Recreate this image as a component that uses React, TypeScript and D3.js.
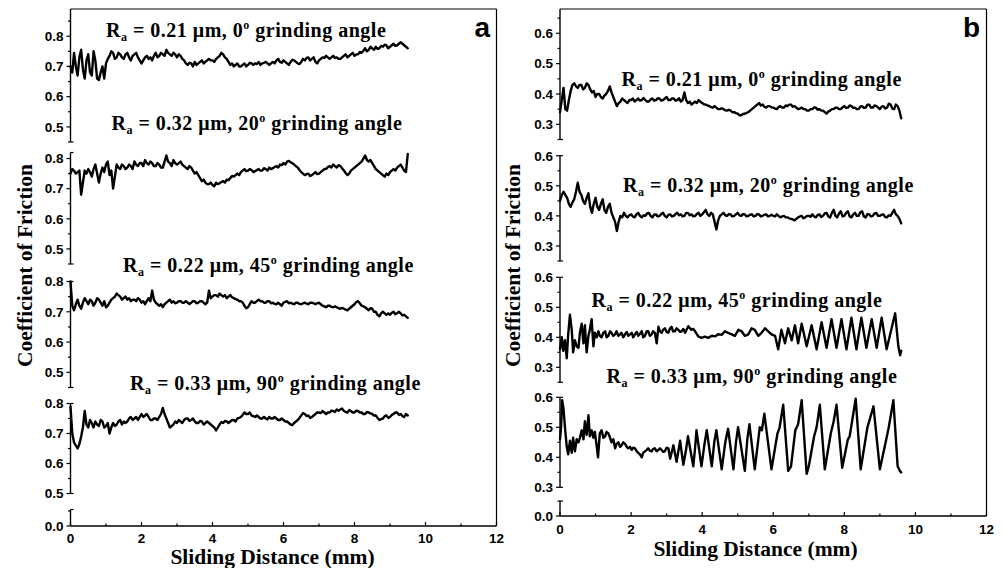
import React from 'react';
import * as d3 from 'd3';

// ---------------- DATA ----------------
const X_TICKS = [0, 2, 4, 6, 8, 10, 12];
const X_MINOR = [1, 3, 5, 7, 9, 11];
const X_DOMAIN: [number, number] = [0, 12];
const SAMPLE_STEP = 0.05; // mm between readings of the uniform traces

// value ranges of the stacked (broken) y-axis layers, top to bottom
const SEG_DOMAINS_A: [number, number][] = [[0.45, 0.89], [0.45, 0.82], [0.45, 0.8], [0.5, 0.8], [0, 0.055]];
const SEG_DOMAINS_B: [number, number][] = [[0.25, 0.68], [0.25, 0.6], [0.25, 0.6], [0.3, 0.6], [0, 0.05]];

// panel a : coefficient of friction, one reading per 0.05 mm from 0 mm
const A1_COF = [0.70,0.68,0.745,0.70,0.67,0.73,0.755,0.69,0.66,0.72,0.74,0.68,0.67,0.75,0.72,0.66,0.655,0.68,0.70,0.66,
0.71,0.725,0.735,0.75,0.745,0.725,0.73,0.745,0.74,0.73,0.725,0.74,0.745,0.73,0.72,0.735,0.74,0.745,0.73,0.72,
0.71,0.72,0.73,0.735,0.725,0.73,0.72,0.735,0.745,0.73,0.735,0.745,0.74,0.735,0.755,0.745,0.74,0.735,0.745,0.74,
0.73,0.74,0.735,0.725,0.72,0.71,0.705,0.712,0.71,0.70,0.715,0.705,0.71,0.715,0.72,0.71,0.715,0.72,0.725,0.72,
0.72,0.715,0.725,0.73,0.735,0.745,0.74,0.73,0.725,0.715,0.705,0.71,0.70,0.705,0.71,0.70,0.70,0.705,0.71,0.70,
0.705,0.712,0.71,0.705,0.71,0.708,0.715,0.705,0.71,0.712,0.715,0.71,0.705,0.71,0.715,0.71,0.72,0.725,0.715,0.712,
0.72,0.715,0.71,0.705,0.715,0.722,0.72,0.715,0.71,0.708,0.715,0.725,0.72,0.728,0.73,0.72,0.725,0.73,0.715,0.71,
0.72,0.725,0.73,0.728,0.735,0.73,0.725,0.73,0.735,0.728,0.73,0.725,0.725,0.73,0.735,0.74,0.73,0.735,0.74,0.745,
0.735,0.74,0.74,0.748,0.745,0.752,0.76,0.75,0.755,0.765,0.76,0.755,0.765,0.758,0.76,0.768,0.765,0.772,0.77,0.76,
0.765,0.77,0.775,0.768,0.77,0.775,0.78,0.775,0.77,0.765,0.76];
const A2_COF = [0.75,0.765,0.76,0.75,0.755,0.76,0.68,0.72,0.76,0.75,0.765,0.755,0.74,0.765,0.78,0.75,0.72,0.75,0.77,0.755,
0.78,0.79,0.745,0.76,0.70,0.74,0.78,0.77,0.765,0.78,0.775,0.765,0.77,0.78,0.775,0.765,0.79,0.78,0.775,0.785,
0.785,0.775,0.795,0.785,0.78,0.79,0.785,0.775,0.775,0.785,0.78,0.77,0.77,0.79,0.81,0.79,0.785,0.775,0.795,0.785,
0.78,0.785,0.79,0.78,0.775,0.77,0.765,0.775,0.77,0.76,0.75,0.755,0.745,0.735,0.725,0.73,0.72,0.715,0.715,0.72,
0.712,0.708,0.72,0.715,0.718,0.722,0.725,0.72,0.73,0.728,0.735,0.742,0.74,0.745,0.75,0.745,0.755,0.76,0.765,0.758,
0.76,0.765,0.762,0.755,0.758,0.762,0.765,0.76,0.76,0.768,0.765,0.76,0.77,0.765,0.768,0.772,0.775,0.77,0.78,0.778,
0.785,0.78,0.79,0.792,0.787,0.785,0.78,0.775,0.77,0.762,0.755,0.75,0.745,0.748,0.75,0.742,0.745,0.75,0.755,0.748,
0.75,0.755,0.76,0.765,0.765,0.772,0.775,0.77,0.78,0.775,0.77,0.778,0.775,0.768,0.76,0.752,0.745,0.75,0.76,0.765,
0.77,0.775,0.78,0.785,0.79,0.80,0.81,0.795,0.79,0.795,0.785,0.775,0.765,0.76,0.755,0.75,0.745,0.74,0.75,0.745,
0.755,0.76,0.765,0.76,0.77,0.775,0.78,0.77,0.76,0.755,0.815];
const A3_COF = [0.80,0.72,0.705,0.725,0.74,0.72,0.71,0.73,0.745,0.735,0.725,0.74,0.735,0.72,0.73,0.745,0.74,0.73,0.72,0.735,
0.715,0.72,0.73,0.74,0.745,0.75,0.76,0.755,0.75,0.74,0.745,0.75,0.74,0.745,0.735,0.74,0.74,0.735,0.745,0.74,
0.73,0.735,0.725,0.735,0.745,0.735,0.77,0.74,0.73,0.725,0.72,0.725,0.715,0.725,0.73,0.735,0.74,0.73,0.735,0.728,
0.73,0.735,0.735,0.73,0.73,0.735,0.73,0.726,0.73,0.735,0.735,0.728,0.73,0.735,0.735,0.73,0.725,0.73,0.77,0.745,
0.75,0.755,0.755,0.75,0.76,0.755,0.75,0.755,0.745,0.75,0.755,0.748,0.745,0.742,0.74,0.735,0.735,0.73,0.72,0.712,
0.715,0.725,0.735,0.73,0.73,0.735,0.74,0.735,0.735,0.73,0.73,0.735,0.735,0.728,0.73,0.726,0.725,0.73,0.725,0.72,
0.73,0.733,0.735,0.728,0.73,0.727,0.725,0.73,0.73,0.726,0.725,0.728,0.73,0.727,0.725,0.73,0.73,0.728,0.725,0.728,
0.73,0.725,0.72,0.718,0.715,0.72,0.72,0.716,0.715,0.718,0.715,0.712,0.71,0.713,0.71,0.707,0.705,0.71,0.715,0.72,
0.725,0.732,0.735,0.728,0.72,0.718,0.715,0.71,0.705,0.712,0.71,0.70,0.70,0.69,0.685,0.695,0.70,0.695,0.69,0.695,
0.69,0.697,0.70,0.692,0.695,0.70,0.695,0.688,0.69,0.685,0.68];
const A4_COF = [0.79,0.70,0.67,0.66,0.65,0.665,0.69,0.72,0.775,0.73,0.72,0.745,0.735,0.72,0.74,0.73,0.725,0.745,0.74,0.72,
0.725,0.735,0.70,0.72,0.735,0.725,0.73,0.74,0.745,0.73,0.74,0.735,0.74,0.75,0.755,0.745,0.75,0.755,0.745,0.755,
0.765,0.755,0.76,0.765,0.755,0.745,0.745,0.75,0.75,0.745,0.755,0.765,0.785,0.765,0.75,0.735,0.72,0.725,0.73,0.74,
0.735,0.745,0.74,0.735,0.745,0.75,0.75,0.742,0.745,0.75,0.74,0.735,0.735,0.742,0.74,0.73,0.735,0.74,0.735,0.73,
0.725,0.72,0.71,0.72,0.73,0.738,0.735,0.742,0.74,0.735,0.74,0.745,0.745,0.74,0.75,0.752,0.755,0.762,0.77,0.765,
0.765,0.77,0.76,0.758,0.755,0.76,0.755,0.75,0.75,0.755,0.75,0.747,0.755,0.75,0.75,0.755,0.75,0.745,0.745,0.75,
0.745,0.74,0.74,0.735,0.73,0.728,0.735,0.74,0.745,0.752,0.76,0.768,0.765,0.758,0.76,0.752,0.755,0.76,0.765,0.77,
0.77,0.768,0.775,0.77,0.765,0.77,0.77,0.776,0.775,0.772,0.78,0.776,0.78,0.783,0.775,0.772,0.77,0.778,0.775,0.77,
0.77,0.776,0.775,0.77,0.77,0.765,0.765,0.772,0.77,0.767,0.765,0.76,0.76,0.752,0.745,0.748,0.75,0.758,0.76,0.752,
0.755,0.762,0.765,0.77,0.77,0.762,0.765,0.758,0.755,0.765,0.76];

// panel b : uniform readings (0.05 mm) for the first two traces
const B1_COF = [0.34,0.38,0.42,0.35,0.345,0.38,0.41,0.43,0.435,0.425,0.42,0.43,0.43,0.415,0.42,0.435,0.43,0.415,0.405,0.41,
0.39,0.40,0.40,0.39,0.385,0.395,0.40,0.41,0.425,0.405,0.39,0.375,0.36,0.37,0.375,0.385,0.38,0.375,0.37,0.38,
0.38,0.385,0.375,0.38,0.385,0.378,0.38,0.387,0.38,0.375,0.375,0.382,0.385,0.378,0.38,0.386,0.385,0.378,0.38,0.385,
0.39,0.38,0.38,0.385,0.385,0.378,0.38,0.386,0.375,0.38,0.405,0.38,0.37,0.375,0.365,0.37,0.375,0.37,0.38,0.375,
0.37,0.366,0.365,0.362,0.36,0.357,0.355,0.36,0.355,0.35,0.35,0.353,0.35,0.346,0.345,0.348,0.345,0.34,0.34,0.337,
0.335,0.33,0.33,0.334,0.335,0.338,0.34,0.345,0.35,0.355,0.36,0.365,0.37,0.362,0.365,0.358,0.355,0.36,0.36,0.356,
0.355,0.352,0.35,0.357,0.36,0.355,0.355,0.362,0.36,0.365,0.365,0.358,0.36,0.355,0.35,0.352,0.355,0.35,0.35,0.345,
0.345,0.35,0.35,0.356,0.355,0.348,0.35,0.345,0.345,0.34,0.335,0.342,0.345,0.35,0.35,0.355,0.355,0.35,0.35,0.356,
0.36,0.354,0.355,0.362,0.36,0.354,0.355,0.35,0.35,0.358,0.36,0.354,0.355,0.365,0.365,0.355,0.355,0.362,0.36,0.355,
0.35,0.358,0.36,0.352,0.355,0.368,0.365,0.352,0.35,0.365,0.36,0.345,0.32];
const B2_COF = [0.45,0.47,0.48,0.47,0.46,0.44,0.43,0.445,0.455,0.48,0.51,0.48,0.47,0.45,0.44,0.46,0.475,0.43,0.41,0.44,
0.46,0.43,0.42,0.44,0.455,0.42,0.41,0.43,0.44,0.41,0.395,0.38,0.35,0.38,0.40,0.395,0.41,0.40,0.395,0.402,
0.405,0.398,0.395,0.405,0.41,0.40,0.395,0.402,0.40,0.408,0.41,0.40,0.395,0.404,0.405,0.398,0.40,0.406,0.41,0.40,
0.395,0.403,0.405,0.398,0.40,0.406,0.41,0.402,0.405,0.398,0.40,0.41,0.41,0.402,0.405,0.398,0.40,0.406,0.41,0.40,
0.405,0.412,0.42,0.405,0.40,0.41,0.405,0.38,0.355,0.385,0.40,0.405,0.41,0.402,0.40,0.406,0.405,0.398,0.40,0.405,
0.41,0.402,0.40,0.406,0.405,0.398,0.40,0.404,0.405,0.398,0.40,0.406,0.405,0.398,0.40,0.404,0.405,0.398,0.40,0.404,
0.40,0.398,0.405,0.40,0.395,0.398,0.40,0.395,0.395,0.392,0.39,0.388,0.385,0.39,0.395,0.398,0.40,0.392,0.395,0.40,
0.40,0.397,0.405,0.398,0.395,0.403,0.405,0.396,0.40,0.408,0.41,0.398,0.395,0.41,0.42,0.40,0.395,0.408,0.415,0.398,
0.40,0.41,0.415,0.398,0.395,0.405,0.41,0.40,0.40,0.412,0.415,0.398,0.395,0.406,0.405,0.398,0.40,0.408,0.41,0.40,
0.40,0.404,0.405,0.396,0.395,0.402,0.40,0.41,0.42,0.405,0.40,0.39,0.375];

// panel b : oscillating traces read as (distance mm, COF) turning points
const B3_PTS: [number, number][] = [[0,0.36],[0.05,0.40],[0.09,0.355],[0.14,0.39],[0.19,0.33],[0.23,0.41],[0.28,0.475],[0.33,0.425],[0.37,0.35],[0.42,0.39],[0.47,0.37],[0.52,0.365],[0.56,0.415],[0.61,0.445],[0.66,0.38],[0.70,0.44],[0.75,0.35],[0.80,0.405],[0.84,0.425],[0.89,0.46],[0.94,0.37],[0.98,0.415],[1.03,0.40],[1.08,0.42],[1.12,0.405],[1.17,0.40],[1.22,0.415],[1.27,0.42],[1.31,0.40],[1.36,0.405],[1.41,0.42],[1.45,0.415],[1.50,0.405],[1.55,0.41],[1.59,0.42],[1.64,0.405],[1.69,0.41],[1.73,0.415],[1.78,0.40],[1.83,0.41],[1.88,0.418],[1.92,0.405],[1.97,0.41],[2.02,0.415],[2.06,0.40],[2.11,0.41],[2.16,0.418],[2.20,0.405],[2.25,0.412],[2.30,0.42],[2.34,0.40],[2.39,0.405],[2.44,0.42],[2.48,0.42],[2.53,0.405],[2.58,0.41],[2.62,0.42],[2.67,0.415],[2.72,0.38],[2.77,0.435],[2.81,0.42],[2.86,0.415],[2.90,0.425],[2.95,0.43],[3.0,0.418],[3.05,0.415],[3.09,0.428],[3.14,0.435],[3.18,0.42],[3.23,0.42],[3.28,0.43],[3.33,0.425],[3.38,0.418],[3.42,0.42],[3.47,0.428],[3.52,0.415],[3.56,0.425],[3.61,0.437],[3.66,0.43],[3.70,0.425],[3.75,0.428],[3.80,0.42],[3.89,0.403],[3.98,0.398],[4.08,0.402],[4.17,0.398],[4.27,0.405],[4.36,0.403],[4.45,0.41],[4.55,0.408],[4.64,0.42],[4.73,0.415],[4.83,0.41],[4.92,0.405],[5.02,0.425],[5.11,0.42],[5.20,0.405],[5.30,0.41],[5.39,0.43],[5.48,0.425],[5.58,0.405],[5.67,0.415],[5.77,0.43],[5.86,0.42],[5.95,0.41],[6.05,0.405],[6.14,0.36],[6.23,0.425],[6.33,0.38],[6.42,0.43],[6.52,0.39],[6.61,0.44],[6.70,0.38],[6.80,0.445],[6.94,0.37],[7.08,0.44],[7.22,0.36],[7.36,0.45],[7.50,0.365],[7.64,0.46],[7.78,0.365],[7.92,0.46],[8.06,0.36],[8.20,0.465],[8.34,0.36],[8.48,0.465],[8.62,0.365],[8.77,0.46],[8.91,0.365],[9.05,0.465],[9.19,0.36],[9.43,0.48],[9.52,0.37],[9.57,0.34],[9.60,0.355]];
const B4_PTS: [number, number][] = [[0,0.46],[0.03,0.50],[0.06,0.59],[0.1,0.56],[0.14,0.50],[0.19,0.435],[0.23,0.41],[0.28,0.455],[0.33,0.415],[0.37,0.465],[0.42,0.42],[0.47,0.46],[0.52,0.45],[0.56,0.465],[0.61,0.49],[0.66,0.46],[0.70,0.52],[0.75,0.475],[0.80,0.54],[0.84,0.47],[0.89,0.49],[0.94,0.465],[0.98,0.485],[1.03,0.44],[1.07,0.40],[1.12,0.48],[1.17,0.49],[1.22,0.465],[1.27,0.47],[1.31,0.485],[1.36,0.48],[1.41,0.465],[1.45,0.45],[1.50,0.46],[1.55,0.43],[1.59,0.445],[1.64,0.45],[1.69,0.435],[1.73,0.44],[1.78,0.45],[1.83,0.445],[1.88,0.435],[1.92,0.43],[1.97,0.435],[2.02,0.425],[2.06,0.432],[2.11,0.43],[2.16,0.42],[2.20,0.415],[2.25,0.41],[2.30,0.40],[2.34,0.415],[2.39,0.42],[2.44,0.425],[2.48,0.43],[2.53,0.422],[2.58,0.42],[2.62,0.428],[2.67,0.43],[2.72,0.42],[2.77,0.425],[2.81,0.43],[2.86,0.425],[2.90,0.418],[2.95,0.42],[3.0,0.432],[3.05,0.43],[3.10,0.395],[3.19,0.44],[3.28,0.385],[3.38,0.455],[3.47,0.375],[3.54,0.42],[3.60,0.47],[3.75,0.37],[3.80,0.43],[3.84,0.49],[3.98,0.37],[4.06,0.44],[4.13,0.49],[4.27,0.37],[4.34,0.45],[4.40,0.49],[4.55,0.36],[4.65,0.45],[4.73,0.495],[4.88,0.36],[4.95,0.45],[5.01,0.50],[5.20,0.355],[5.27,0.46],[5.33,0.51],[5.48,0.36],[5.62,0.50],[5.68,0.49],[5.75,0.545],[5.95,0.36],[6.12,0.48],[6.18,0.50],[6.28,0.575],[6.42,0.355],[6.50,0.37],[6.62,0.49],[6.70,0.51],[6.80,0.59],[6.94,0.345],[7.0,0.37],[7.15,0.47],[7.22,0.50],[7.31,0.575],[7.45,0.36],[7.62,0.48],[7.70,0.52],[7.78,0.575],[7.94,0.365],[8.1,0.46],[8.15,0.47],[8.32,0.595],[8.46,0.36],[8.65,0.5],[8.82,0.57],[9.0,0.36],[9.18,0.46],[9.25,0.50],[9.38,0.59],[9.5,0.37],[9.56,0.355],[9.6,0.35]];

const RA_VALUES = ['0.21', '0.32', '0.22', '0.33'];
const ANGLES = ['0', '20', '45', '90'];
const PANEL_LETTERS = ['a', 'b'];
const X_TITLE = 'Sliding Distance (mm)';
const Y_TITLE = 'Coefficient of Friction';

// ---------------- LAYOUT ----------------
const SERIF = "'Liberation Serif', 'Times New Roman', serif";
const SANS = "'Liberation Sans', Arial, sans-serif";

const LAYOUT_A = {
  x0: 70.5, x1: 496.5, top: 9, bottom: 526,
  segRanges: [[142, 9], [264, 152.5], [387.5, 281.5], [493.5, 403.5], [526, 509.5]] as [number, number][],
  xLabelY: 542.5, xTitle: [272.5, 563.5], yTitle: [31.5, 265.5], letter: [490, 37],
  labelPos: [[106, 37], [111.5, 130], [123, 272], [130, 390]],
};
const LAYOUT_B = {
  x0: 560, x1: 986.5, top: 9, bottom: 516,
  segRanges: [[139.5, 9], [261, 155.7], [382.3, 277.3], [487.3, 397.3], [516, 501]] as [number, number][],
  xLabelY: 533.5, xTitle: [755.5, 555.5], yTitle: [520, 265.5], letter: [980, 37],
  labelPos: [[621.5, 86], [623, 192], [591.5, 307], [606.5, 383]],
};

const toPts = (vals: number[]): [number, number][] => vals.map((v, i) => [i * SAMPLE_STEP, v]);

function tickVals(lo: number, hi: number, step: number) {
  const out: number[] = [];
  const k0 = Math.ceil(lo / step - 1e-6), k1 = Math.floor(hi / step + 1e-6);
  for (let k = k0; k <= k1; k++) out.push(+(k * step).toFixed(3));
  return out;
}

function SeriesLabel({ x, y, ra, angle }: { x: number; y: number; ra: string; angle: string }) {
  return (
    <text x={x} y={y} fontFamily={SERIF} fontWeight="bold" fontSize={20} letterSpacing={0.5} fill="#000">
      R<tspan fontSize={12} dy={4}>a</tspan>
      <tspan dy={-4}>{` = ${ra} \u03bcm, ${angle}`}</tspan>
      <tspan fontSize={12} dy={-8}>o</tspan>
      <tspan dy={8}>{' grinding angle'}</tspan>
    </text>
  );
}

function Panel({ layout, domains, series, letter }: any) {
  const xs = d3.scaleLinear().domain(X_DOMAIN).range([layout.x0, layout.x1]);
  const scales = domains.map((dom: [number, number], i: number) =>
    d3.scaleLinear().domain(dom).range(layout.segRanges[i]));
  const fmt = d3.format('.1f');
  const { x0, x1, top, bottom } = layout;

  return (
    <g>
      <line x1={x0} y1={top} x2={x1} y2={top} stroke="#000" strokeWidth={1.2} />
      <line x1={x1} y1={top} x2={x1} y2={bottom} stroke="#000" strokeWidth={1.2} />
      <line x1={x0} y1={bottom} x2={x1} y2={bottom} stroke="#000" strokeWidth={1.4} />
      {X_TICKS.map((t) => (
        <g key={'xt' + t}>
          <line x1={xs(t)} x2={xs(t)} y1={bottom} y2={bottom - 4} stroke="#000" strokeWidth={1.2} />
          <text x={xs(t)} y={layout.xLabelY} textAnchor="middle" fontFamily={SANS} fontWeight="bold" fontSize={13.5}>{t}</text>
        </g>
      ))}
      {X_MINOR.map((t) => (
        <line key={'xm' + t} x1={xs(t)} x2={xs(t)} y1={bottom} y2={bottom - 2.5} stroke="#000" strokeWidth={1.2} />
      ))}
      {scales.map((ys: any, i: number) => {
        const [lo, hi] = domains[i];
        const r = layout.segRanges[i];
        const majors = tickVals(lo, hi, 0.1);
        const minors = tickVals(lo, hi, 0.05).filter((v) => !majors.some((m) => Math.abs(m - v) < 1e-6));
        return (
          <g key={'seg' + i}>
            <line x1={x0} x2={x0} y1={r[0]} y2={r[1]} stroke="#000" strokeWidth={1.4} />
            {i > 0 && <line x1={x0} x2={x0 + 3} y1={r[1]} y2={r[1]} stroke="#000" strokeWidth={1.2} />}
            {i < scales.length - 1 && <line x1={x0} x2={x0 + 3} y1={r[0]} y2={r[0]} stroke="#000" strokeWidth={1.2} />}
            {majors.map((v) => (
              <g key={'ym' + v}>
                <line x1={x0 - 4} x2={x0} y1={ys(v)} y2={ys(v)} stroke="#000" strokeWidth={1.2} />
                <text x={x0 - 7} y={ys(v) + 4.8} textAnchor="end" fontFamily={SANS} fontWeight="bold" fontSize={13.5}>{fmt(v)}</text>
              </g>
            ))}
            {minors.map((v) => (
              <line key={'yn' + v} x1={x0 - 2.5} x2={x0} y1={ys(v)} y2={ys(v)} stroke="#000" strokeWidth={1.2} />
            ))}
          </g>
        );
      })}
      {series.map((s: [number, number][], i: number) => {
        const ys = scales[i];
        const line = d3.line<[number, number]>().x((d) => xs(d[0])).y((d) => ys(d[1]));
        return <path key={'s' + i} d={line(s) || ''} fill="none" stroke="#000" strokeWidth={2.4} strokeLinejoin="round" strokeLinecap="round" />;
      })}
      {RA_VALUES.map((ra, i) => (
        <SeriesLabel key={'lab' + i} x={layout.labelPos[i][0]} y={layout.labelPos[i][1]} ra={ra} angle={ANGLES[i]} />
      ))}
      <text x={layout.xTitle[0]} y={layout.xTitle[1]} textAnchor="middle" fontFamily={SERIF} fontWeight="bold" fontSize={21.5}>{X_TITLE}</text>
      <text transform={`translate(${layout.yTitle[0]},${layout.yTitle[1]}) rotate(-90)`} textAnchor="middle" fontFamily={SERIF} fontWeight="bold" fontSize={21.5}>{Y_TITLE}</text>
      <text x={layout.letter[0]} y={layout.letter[1]} textAnchor="end" fontFamily={SANS} fontWeight="bold" fontSize={28}>{letter}</text>
    </g>
  );
}

export default function App() {
  const seriesA = [toPts(A1_COF), toPts(A2_COF), toPts(A3_COF), toPts(A4_COF)];
  const seriesB = [toPts(B1_COF), toPts(B2_COF), B3_PTS, B4_PTS];
  return (
    <svg width={1005} height={568} style={{ position: 'absolute', left: 0, top: 0, background: '#fff' }}>
      <rect width={1005} height={568} fill="#fff" />
      <Panel layout={LAYOUT_A} domains={SEG_DOMAINS_A} series={seriesA} letter={PANEL_LETTERS[0]} />
      <Panel layout={LAYOUT_B} domains={SEG_DOMAINS_B} series={seriesB} letter={PANEL_LETTERS[1]} />
    </svg>
  );
}
